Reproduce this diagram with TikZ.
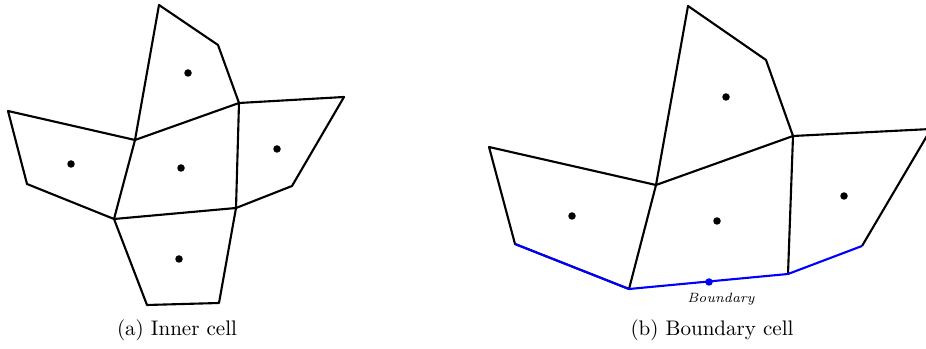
\documentclass[tikz,border=0pt]{standalone}
\begin{document}
\begin{tikzpicture}[x=0.52pt,y=0.52pt]
    \tikzset{edge/.style={line width=1.1pt,line join=round},
        bnd/.style={edge,blue},
        site/.style={circle,fill=black,inner sep=0pt,minimum size=3.9pt},
        capt/.style={font=\fontsize{10.95}{13}\selectfont}}
    \useasboundingbox (0,0) rectangle (926,349);
    % (a) inner cell
    \coordinate (ane) at (239,246);
    \coordinate (ase) at (236,141);
    \coordinate (asw) at (114,130);
    \coordinate (anw) at (135,209);
    \draw[edge] (ane) -- (ase) -- (asw) -- (anw) -- cycle;
    \draw[edge] (anw) -- (159,344) -- (218,304) -- (ane);
    \draw[edge] (ane) -- (344,252) -- (292,163) -- (ase);
    \draw[edge] (ase) -- (219,46) -- (147,44) -- (asw);
    \draw[edge] (asw) -- (27,165) -- (8,238) -- (anw);
    \node[site] (ac) at (181,181) {};
    \node[site] (an) at (188,276) {};
    \node[site] (ae) at (277,200) {};
    \node[site] (as) at (179,90) {};
    \node[site] (aw) at (71,185) {};
    \node[capt] (acap) at (177,19) {(a) Inner cell};
    % (b) boundary cell
    \coordinate (bne) at (793,213);
    \coordinate (bse) at (788,75);
    \coordinate (bsw) at (629,60);
    \coordinate (bnw) at (656,164);
    \draw[edge] (bsw) -- (bnw) -- (bne) -- (bse);
    \draw[edge] (bnw) -- (688,343) -- (766,289) -- (bne);
    \draw[edge] (bne) -- (931,220) -- (862,103);
    \draw[edge] (bsw) -- (515,105) -- (489,202) -- (bnw);
    \draw[bnd] (862,103) -- (bse) -- (bsw) -- (515,105);
    \node[site] (bc) at (717,128) {};
    \node[site] (bn) at (726,252) {};
    \node[site] (be) at (844,153) {};
    \node[site] (bw) at (572,133) {};
    \node[site,fill=blue] (bf) at (709,67) {};
    \node[font=\scriptsize\itshape] (blab) at (721,50) {Boundary};
    \node[capt] (bcap) at (712,19) {(b) Boundary cell};
\end{tikzpicture}
\end{document}
